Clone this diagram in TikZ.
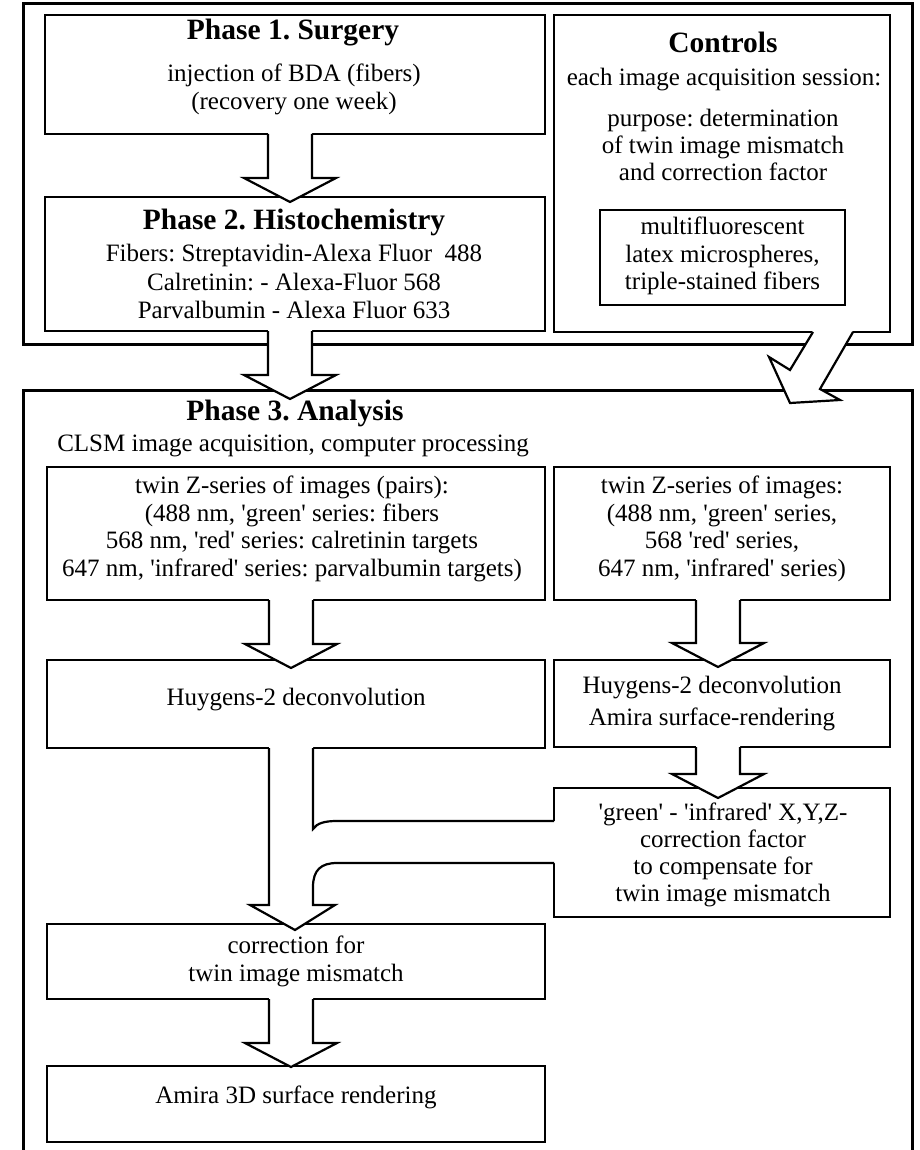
\documentclass[tikz,border=0pt]{standalone}
\usepackage{fontspec}
\setmainfont{Liberation Serif}[Ligatures=TeXOff]
\usetikzlibrary{calc}
\frenchspacing
\tikzset{
  frame/.style={draw, line width=3pt, inner sep=0pt, outer sep=0pt},
  box/.style={draw, line width=2.3pt, inner sep=0pt, outer sep=0pt},
  txt/.style={align=center, inner sep=0pt, font=\fontsize{25}{27.5}\selectfont},
  headtxt/.style={inner sep=0pt, font=\fontsize{29.5}{32}\selectfont\bfseries},
  arrowline/.style={line width=2.2pt, line join=miter},
}
% block arrow: #1 source node, #2 target node, #3 x shift, #4 penetration of the tip
\newcommand\blockarrow[4]{%
  \path ($(#1.south)+(#3,0)$) coordinate (bs) (bs |- #2.north) coordinate (bt);
  \fill[white] let \p1=(bs), \p2=(bt) in
    (\x1-22pt,\y1+1.6pt) -- (\x1-22pt,\y2-#4pt+24pt) -- (\x1-46pt,\y2-#4pt+24pt)
    -- (\x1,\y2-#4pt) -- (\x1+46pt,\y2-#4pt+24pt) -- (\x1+22pt,\y2-#4pt+24pt)
    -- (\x1+22pt,\y1+1.6pt) -- cycle;
  \draw[arrowline] let \p1=(bs), \p2=(bt) in
    (\x1-22pt,\y1) -- (\x1-22pt,\y2-#4pt+24pt) -- (\x1-46pt,\y2-#4pt+24pt)
    -- (\x1,\y2-#4pt) -- (\x1+46pt,\y2-#4pt+24pt) -- (\x1+22pt,\y2-#4pt+24pt)
    -- (\x1+22pt,\y1);
}
\begin{document}
\begin{tikzpicture}[x=1pt,y=-1pt]
\useasboundingbox (0,0) rectangle (920,1150);
\clip (0,0) rectangle (920,1150);

% frames
\node[frame, minimum width=889pt, minimum height=340pt] (fr1) at (467.5,174) {};
\node[minimum width=889pt, minimum height=780pt, inner sep=0pt, outer sep=0pt] (fr3) at (467.5,780) {};
\draw[frame] (fr3.south west) -- (fr3.north west) -- (fr3.north east) -- (fr3.south east);

% boxes
\node[box, minimum width=500pt, minimum height=119pt] (p1) at (295,74.5) {};
\node[box, minimum width=500pt, minimum height=134pt] (p2) at (295,264) {};
\node[box, minimum width=336pt, minimum height=317pt] (ctl) at (722,173.5) {};
\node[box, minimum width=245pt, minimum height=95pt] (ms) at (722.5,257.5) {};
\node[box, minimum width=498pt, minimum height=133pt] (ba) at (296,533.5) {};
\node[box, minimum width=336pt, minimum height=133pt] (bb) at (722,533.5) {};
\node[box, minimum width=498pt, minimum height=88pt] (hl) at (296,704) {};
\node[box, minimum width=336pt, minimum height=87pt] (hr) at (722,703.5) {};
\node[box, minimum width=336pt, minimum height=129pt] (cf) at (722,852.5) {};
\node[box, minimum width=498pt, minimum height=75pt] (cc) at (296,961.5) {};
\node[box, minimum width=498pt, minimum height=76pt] (am) at (296,1104) {};

% straight block arrows
\blockarrow{p1}{p2}{-5}{5}
\blockarrow{p2}{fr3}{-5}{9}
\blockarrow{ba}{hl}{-5}{8}
\blockarrow{bb}{hr}{-4}{7}
\blockarrow{hr}{cf}{-4}{10}
\blockarrow{cc}{am}{-5}{1}

% merged arrow: Huygens (left) + correction factor -> correction for mismatch
\begin{scope}[shift={(hl.south)}]
  \fill[white] (-27,-1.6) -- (-27,157) -- (-46,157) -- (-1,182) -- (39,157) -- (17,157)
    -- (17,139) .. controls (17,122) and (25,115) .. (41,115) -- (259.6,115)
    -- (259.6,73) -- (41,73) .. controls (29,73) and (21,75) .. (17,81) -- (17,-1.6) -- cycle;
  \draw[arrowline] (-27,0) -- (-27,157) -- (-46,157) -- (-1,182) -- (39,157) -- (17,157)
    -- (17,139) .. controls (17,122) and (25,115) .. (41,115) -- (258,115);
  \draw[arrowline] (17,0) -- (17,81) .. controls (21,75) and (29,73) .. (41,73) -- (258,73);
\end{scope}

% slanted arrow from Controls into Phase 3
\begin{scope}[shift={(ctl.south)}]
  \fill[white] (91,-1.6) -- (68,38) -- (47,25) -- (68,71) -- (118,68) -- (98,57) -- (131,-1.6) -- cycle;
  \draw[arrowline] (91,0) -- (68,38) -- (47,25) -- (68,71) -- (118,68) -- (98,57) -- (131,0);
\end{scope}

% texts
\node[headtxt] (t1h) at (293,33) {Phase 1. Surgery};
\node[txt] (t1b) at (294,89.5) {injection of BDA (fibers)\\(recovery one week)};
\node[headtxt] (t2h) at (294,222) {Phase 2. Histochemistry};
\node[txt, font=\fontsize{25}{28.5}\selectfont] (t2b) at (294,281.5)
  {Fibers: Streptavidin-Alexa Fluor\ \ 488\\Calretinin: - Alexa-Fluor 568\\Parvalbumin - Alexa Fluor 633};
\node[headtxt] (tch) at (723,42) {Controls};
\node[txt] (tc1) at (724,80) {each image acquisition session:};
\node[txt, font=\fontsize{25}{27}\selectfont] (tc2) at (723,145) {purpose: determination\\of twin image mismatch\\and correction factor};
\node[txt] (tms) at (722.5,256) {multifluorescent\\latex microspheres,\\triple-stained fibers};
\node[headtxt] (t3h) at (295,413) {Phase 3. Analysis};
\node[txt] (t3s) at (293,446) {CLSM image acquisition, computer processing};
\node[txt, font=\fontsize{25}{27.7}\selectfont] (tA) at (292,529)
  {twin Z-series of images (pairs):\\(488 nm, 'green' series: fibers\\568 nm, 'red' series: calretinin targets\\647 nm, 'infrared' series: parvalbumin targets)};
\node[txt, font=\fontsize{25}{27.7}\selectfont] (tB) at (722,529)
  {twin Z-series of images:\\(488 nm, 'green' series,\\568 'red' series,\\647 nm, 'infrared' series)};
\node[txt] (thl) at (296,700) {Huygens-2 deconvolution};
\node[txt, font=\fontsize{25}{32}\selectfont] (thr) at (712,704) {Huygens-2 deconvolution\\Amira surface-rendering};
\node[txt, font=\fontsize{25}{26.8}\selectfont] (tcf) at (723,855)
  {'green' - 'infrared' X,Y,Z-\\correction factor\\to compensate for\\twin image mismatch};
\node[txt, font=\fontsize{25}{28}\selectfont] (tcc) at (296,961) {correction for\\twin image mismatch};
\node[txt] (tam) at (296,1097) {Amira 3D surface rendering};
\end{tikzpicture}
\end{document}
